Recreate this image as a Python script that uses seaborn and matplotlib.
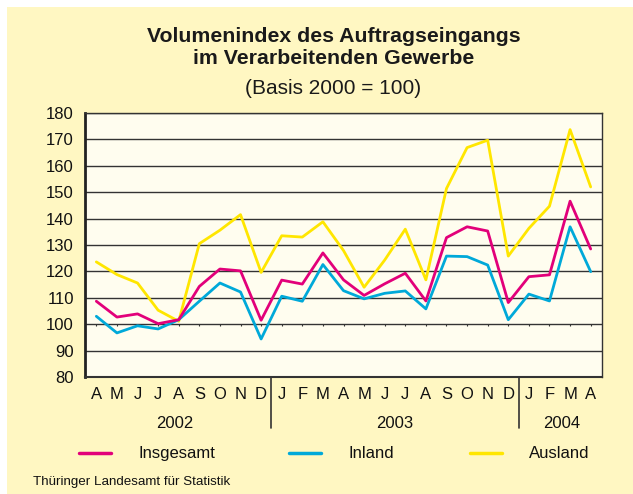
import matplotlib.pyplot as plt
import numpy as np
import pandas as pd
import seaborn as sns
from matplotlib.patches import Rectangle

# Monthly values, April 2002 .. April 2004
months = ["A", "M", "J", "J", "A", "S", "O", "N", "D",
          "J", "F", "M", "A", "M", "J", "J", "A", "S", "O", "N", "D",
          "J", "F", "M", "A"]
years = ["2002", "2003", "2004"]
insgesamt = [108.7, 102.7, 103.9, 100.2, 101.7, 114.3, 120.9, 120.2, 101.5,
             116.7, 115.2, 127.0, 116.8, 110.9, 115.3, 119.3, 108.8, 132.8, 136.9, 135.3, 108.2,
             118.0, 118.7, 146.6, 128.5]
inland = [103.0, 96.7, 99.4, 98.2, 101.7, 108.7, 115.6, 112.2, 94.4,
          110.6, 108.7, 122.6, 112.7, 109.6, 111.7, 112.6, 105.8, 125.8, 125.6, 122.4, 101.7,
          111.4, 108.8, 136.9, 119.9]
ausland = [123.6, 118.8, 115.6, 105.3, 101.1, 130.5, 135.6, 141.5, 119.6,
           133.5, 133.0, 138.8, 127.9, 114.0, 124.3, 136.0, 116.8, 151.4, 166.9, 169.7, 125.8,
           136.3, 144.7, 173.7, 152.0]
series_names = ["Insgesamt", "Inland", "Ausland"]
colors = ["#E2007A", "#00A9D9", "#FFE600"]

idx = np.arange(len(months))
df = pd.DataFrame({
    "idx": np.tile(idx, 3),
    "wert": insgesamt + inland + ausland,
    "reihe": np.repeat(series_names, len(months)),
})

sns.set_style("white")
plt.rcParams["font.family"] = ["Liberation Sans", "DejaVu Sans"]

bg = "#FFF7C2"
fig = plt.figure(figsize=(6.33, 4.94), dpi=100, facecolor="white")
fig.patches.append(Rectangle((7 / 633, 0), 1, 1 - 7 / 494, transform=fig.transFigure,
                             facecolor=bg, edgecolor="none", zorder=-10))
ax = fig.add_axes([85 / 633, 1 - 377 / 494, 517 / 633, 264 / 494])
ax.set_facecolor("#FFFDEF")

sns.lineplot(data=df, x="idx", y="wert", hue="reihe", hue_order=series_names[::-1],
             palette=dict(zip(series_names, colors)), linewidth=2.0, ax=ax, legend=False,
             zorder=3)

ax.set_xlim(-0.55, 24.55)
ax.set_ylim(80, 180)
ax.set_yticks(range(80, 181, 10))
ax.yaxis.grid(True, color="#333333", linewidth=1.0)
ax.set_axisbelow(True)
ax.tick_params(axis="y", length=5, width=1.2, color="#222222", labelsize=12, pad=3,
               labelcolor="#111111")
ax.set_xticks(idx)
ax.set_xticklabels(months)
ax.tick_params(axis="x", length=0, labelsize=12, pad=7, labelcolor="#111111")
ax.set_xlabel("")
ax.set_ylabel("")
for s in ax.spines.values():
    s.set_visible(True)
    s.set_color("#333333")
    s.set_linewidth(1.0)
ax.spines["left"].set_linewidth(2.0)
ax.spines["left"].set_color("#222222")
ax.spines["bottom"].set_linewidth(1.5)

# small month ticks on the 100 line
ax.vlines(idx, 99.3, 100, color="#333333", linewidth=0.8, zorder=2)

# year separators and year labels below axis
trans = ax.get_xaxis_transform()
for xsep in (8.5, 20.5):
    ax.plot([xsep, xsep], [0, -0.195], transform=trans, color="#333333",
            linewidth=1.2, clip_on=False)
year_centers = [3.8, 14.5, 22.6]
for yr, xc in zip(years, year_centers):
    ax.text(xc, -0.175, yr, transform=trans, ha="center", va="center", fontsize=12,
            color="#111111")

# titles
fig.text(333.5 / 633, 1 - 37 / 494, "Volumenindex des Auftragseingangs", ha="center",
         va="center", fontsize=15.3, fontweight="bold", color="#1a1a1a")
fig.text(333.5 / 633, 1 - 59 / 494, "im Verarbeitenden Gewerbe", ha="center",
         va="center", fontsize=15.3, fontweight="bold", color="#1a1a1a")
fig.text(333.5 / 633, 1 - 89 / 494, "(Basis 2000 = 100)", ha="center", va="center",
         fontsize=15, color="#1a1a1a")

# legend
leg_y = 1 - 453 / 494
leg_pos = [(79, 138), (289, 348), (470, 529)]
for name, col, (lx, tx) in zip(series_names, colors, leg_pos):
    fig.add_artist(plt.Line2D([lx / 633, (lx + 32) / 633], [leg_y, leg_y],
                              color=col, linewidth=2.5, transform=fig.transFigure))
    fig.text(tx / 633, leg_y, name, ha="left", va="center", fontsize=12, color="#111111")

fig.text(33 / 633, 1 - 482 / 494, "Thüringer Landesamt für Statistik", ha="left",
         va="center", fontsize=9.6, color="#111111")

fig.savefig("out.png", dpi=100, facecolor=fig.get_facecolor())
